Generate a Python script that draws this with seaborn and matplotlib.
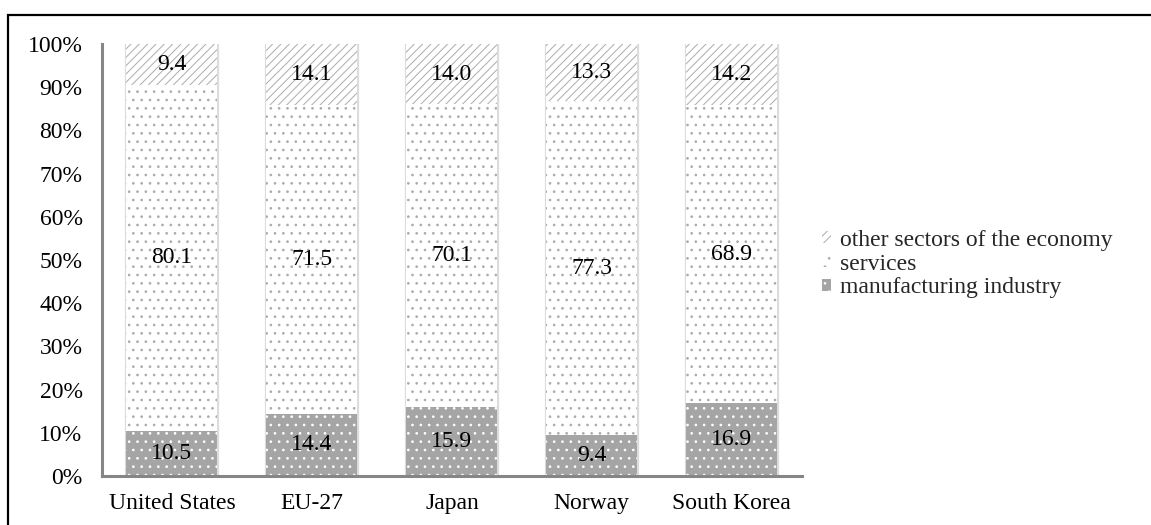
import matplotlib
matplotlib.use("Agg")
import matplotlib.pyplot as plt
import seaborn as sns
from matplotlib.patches import Rectangle, Patch

countries = ["United States", "EU-27", "Japan", "Norway", "South Korea"]
manufacturing = [10.5, 14.4, 15.9, 9.4, 16.9]
services = [80.1, 71.5, 70.1, 77.3, 68.9]
other = [9.4, 14.1, 14.0, 13.3, 14.2]
series_names = ["other sectors of the economy", "services", "manufacturing industry"]
y_ticks = list(range(0, 101, 10))

sns.set_theme(style="white")
plt.rcParams["font.family"] = ["Liberation Serif", "DejaVu Serif"]
plt.rcParams["hatch.linewidth"] = 0.7

FS = 17
GREY = "#a5a5a5"
HATCH_GREY = "#ababab"
BAR_W = 0.65

fig = plt.figure(figsize=(11.51, 5.25), dpi=100)
ax = fig.add_axes([0.0886, 0.0933, 0.608, 0.8229])

# stacked segments: tops of each layer
top_manuf = list(manufacturing)
top_serv = [m + s for m, s in zip(manufacturing, services)]
top_other = [m + s + o for m, s, o in zip(manufacturing, services, other)]

# faint outline behind the stacks
sns.barplot(x=countries, y=top_other, ax=ax, width=BAR_W + 0.01, color="white",
            saturation=1, edgecolor="#dcdcdc", linewidth=1.6, errorbar=None)
sns.barplot(x=countries, y=top_other, ax=ax, width=BAR_W, color="white",
            saturation=1, edgecolor=HATCH_GREY, hatch="////", linewidth=0, errorbar=None)
sns.barplot(x=countries, y=top_serv, ax=ax, width=BAR_W, color="white",
            saturation=1, edgecolor=HATCH_GREY, hatch="..", linewidth=0, errorbar=None)
sns.barplot(x=countries, y=top_manuf, ax=ax, width=BAR_W, color=GREY,
            saturation=1, edgecolor="white", hatch="..", linewidth=0, errorbar=None)

# segment value labels
for i in range(len(countries)):
    ax.text(i, manufacturing[i] / 2, f"{manufacturing[i]:.1f}", ha="center", va="center",
            fontsize=FS, color="black")
    ax.text(i, manufacturing[i] + services[i] / 2, f"{services[i]:.1f}", ha="center",
            va="center", fontsize=FS, color="black")
    ax.text(i, top_serv[i] + other[i] / 2, f"{other[i]:.1f}", ha="center", va="center",
            fontsize=FS, color="black")

ax.set_xlim(-0.5, len(countries) - 0.5)
ax.set_ylim(0, 100)
ax.set_yticks(y_ticks)
ax.set_yticklabels([f"{v}%" for v in y_ticks])
ax.tick_params(axis="both", length=0, labelsize=FS, colors="black")
ax.tick_params(axis="y", pad=14)
ax.tick_params(axis="x", pad=12)
ax.set_xlabel("")
ax.set_ylabel("")
for side in ("top", "right"):
    ax.spines[side].set_visible(False)
for side in ("left", "bottom"):
    ax.spines[side].set_color("#868686")
    ax.spines[side].set_linewidth(2.2)

handles = [
    Patch(facecolor="white", edgecolor=HATCH_GREY, hatch="////", linewidth=0),
    Patch(facecolor="white", edgecolor=HATCH_GREY, hatch="..", linewidth=0),
    Patch(facecolor=GREY, edgecolor="white", hatch="..", linewidth=0),
]
fig.legend(handles, series_names, loc="center left", bbox_to_anchor=(0.714, 0.497),
           frameon=False, fontsize=FS, handlelength=0.4, handleheight=0.4,
           handletextpad=0.35, labelspacing=0.12, borderpad=0, borderaxespad=0)

# frame around the whole chart
fig.patches.append(Rectangle((0.007, -0.1), 1.2, 1.071, transform=fig.transFigure,
                             fill=False, edgecolor="black", linewidth=1.6))

fig.savefig("out.png", dpi=100)
